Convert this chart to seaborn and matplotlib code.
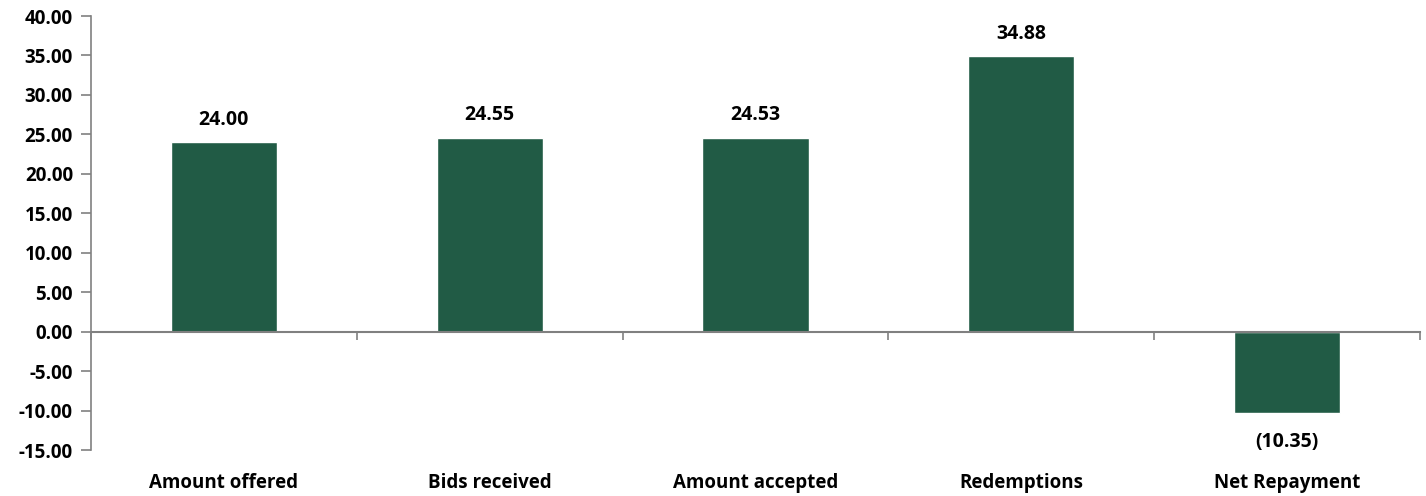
import matplotlib
matplotlib.use("Agg")
import matplotlib.pyplot as plt
import matplotlib.transforms as mtransforms
import seaborn as sns
import pandas as pd

# dados do gráfico
categorias = ["Amount offered", "Bids received", "Amount accepted", "Redemptions", "Net Repayment"]
valores = [24.00, 24.55, 24.53, 34.88, -10.35]
rotulos = ["24.00", "24.55", "24.53", "34.88", "(10.35)"]
y_ticks = [-15, -10, -5, 0, 5, 10, 15, 20, 25, 30, 35, 40]

sns.set_theme(style="white")
plt.rcParams['font.family'] = ['Open Sans', 'DejaVu Sans']
plt.rcParams['text.color'] = 'black'
plt.rcParams['ytick.color'] = 'black'

df = pd.DataFrame({"categoria": categorias, "valor": valores})

fig = plt.figure(figsize=(14.26, 4.96), dpi=100)
ax = fig.add_axes([0.0638, 0.0927, 0.932, 0.875])

sns.barplot(data=df, x="categoria", y="valor", order=categorias,
            color="#215B45", saturation=1, width=0.4, ax=ax)

ax.set_xlim(-0.5, len(categorias) - 0.5)
ax.set_ylim(-15, 40)
ax.set_yticks(y_ticks)
ax.set_yticklabels([f"{v:.2f}" for v in y_ticks], fontsize=13.5, fontweight="bold", color="black")
ax.set_xlabel("")
ax.set_ylabel("")

# eixo x na linha do zero, com marcas entre categorias
for lado in ["top", "right"]:
    ax.spines[lado].set_visible(False)
ax.spines["bottom"].set_position(("data", 0))
ax.spines["bottom"].set_color("#808080")
ax.spines["left"].set_color("#808080")
ax.spines["bottom"].set_linewidth(1.5)
ax.spines["left"].set_linewidth(1.2)
ax.set_xticks([i - 0.5 for i in range(len(categorias) + 1)])
ax.set_xticklabels([])
ax.tick_params(axis="x", bottom=True, direction="out", length=6, width=1.2, color="#808080")
ax.tick_params(axis="y", left=True, direction="out", length=7, width=1.2, color="#808080",
               labelcolor="black", pad=6)

# nomes das categorias embaixo do gráfico
trans = mtransforms.blended_transform_factory(ax.transData, ax.transAxes)
for i, nome in enumerate(categorias):
    ax.text(i, -0.077, nome, transform=trans, ha="center", va="center",
            fontsize=13.5, fontweight="bold", color="black")

# rótulos de valor
for i, (v, r) in enumerate(zip(valores, rotulos)):
    if v >= 0:
        ax.text(i, v + 1.6, r, ha="center", va="bottom", fontsize=14, fontweight="bold", color="black")
    else:
        ax.text(i, v - 2.4, r, ha="center", va="top", fontsize=14, fontweight="bold", color="black")

fig.savefig("out.png", dpi=100)
